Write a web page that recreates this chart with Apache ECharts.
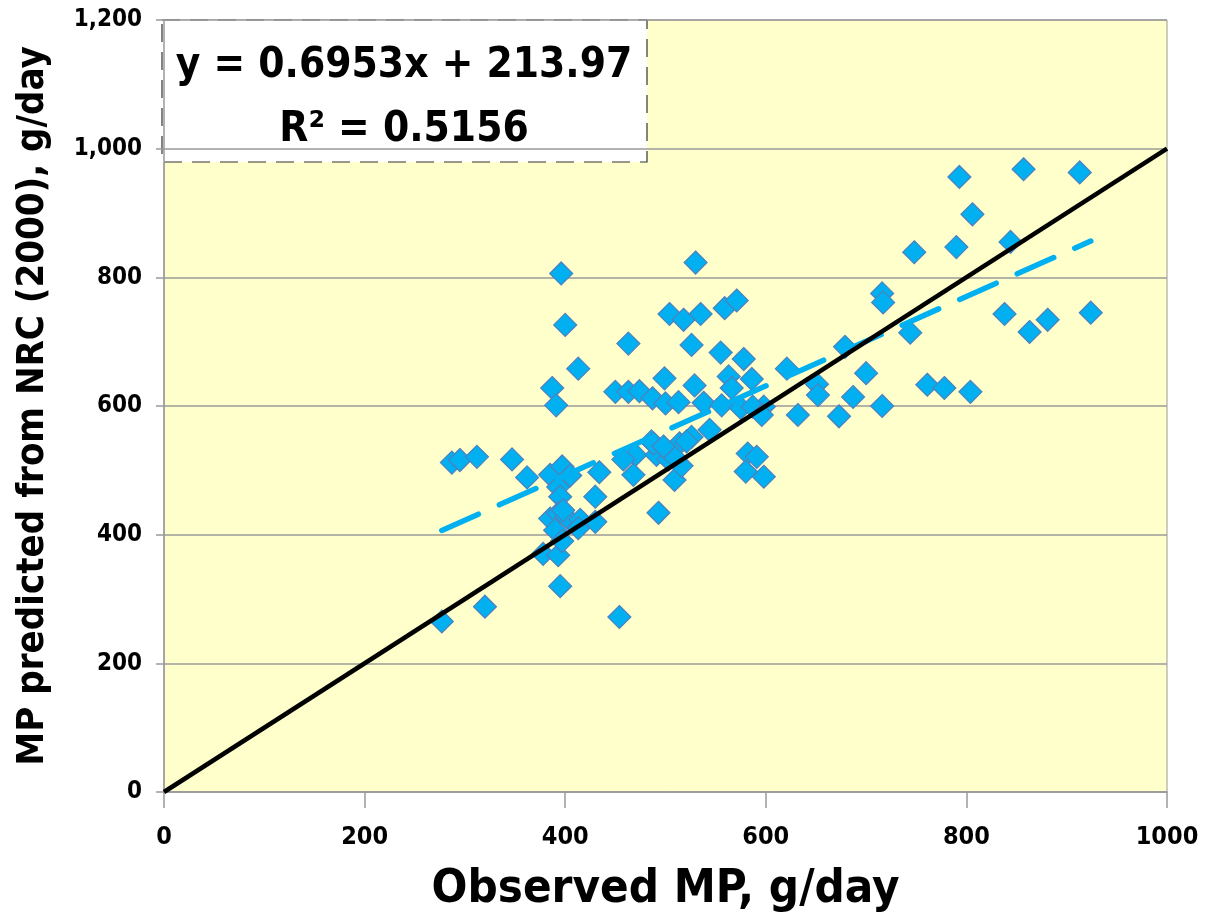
<!DOCTYPE html>
<html>
<head>
<meta charset="utf-8">
<title>Observed vs predicted MP</title>
<script src="https://cdn.jsdelivr.net/npm/echarts@6/dist/echarts.min.js"></script>
<style>
  html, body { margin: 0; padding: 0; background: #ffffff; }
  #chart { width: 1208px; height: 916px; }
</style>
</head>
<body>
<div id="chart"></div>
<script>
// Observed MP (g/day) and MP predicted from NRC (2000) (g/day)
const observedMP = [
  277, 320, 287, 295, 312, 347, 362, 385, 387, 391, 396, 400, 413, 378, 393, 395,
  454, 397, 405, 393, 395, 434, 430, 385, 393, 401, 415, 430, 390, 397, 398, 493,
  463, 504, 518, 526, 499, 530, 450, 463, 474, 487, 500, 513, 529, 535, 559, 571,
  555, 578, 563, 586, 566, 538, 556, 575, 598, 587, 596, 621, 679, 700, 651, 652,
  632, 673, 687, 716, 582, 591, 580, 598, 544, 514, 526, 486, 470, 458, 468, 491,
  509, 516, 503, 488, 521, 508, 793, 857, 913, 806, 844, 748, 790, 716, 717, 838,
  881, 863, 924, 744, 761, 778, 804, 413, 498
];
const predictedMP = [
  265, 288, 512, 516, 521, 517, 489, 493, 628, 601, 806, 726, 658, 370, 368, 320,
  272, 506, 492, 474, 459, 497, 459, 425, 433, 428, 423, 420, 407, 390, 438, 434,
  697, 743, 734, 695, 643, 823, 622, 622, 623, 612, 604, 606, 632, 743, 752, 764,
  683, 673, 646, 642, 628, 605, 601, 597, 599, 599, 586, 658, 692, 651, 634, 617,
  586, 584, 614, 600, 526, 521, 498, 490, 563, 542, 552, 545, 524, 517, 493, 524,
  485, 507, 517, 542, 545, 522, 956, 968, 963, 898, 855, 839, 847, 775, 761, 743,
  734, 715, 745, 714, 633, 628, 622, 410, 537
];

// Linear regression reported for the data set
const trendSlope = 0.6953;
const trendIntercept = 213.97;
const rSquared = 0.5156;

// Axis ranges and ticks
const xTicks = [0, 200, 400, 600, 800, 1000];
const yTicks = [0, 200, 400, 600, 800, 1000, 1200];

const points = observedMP.map((x, i) => [x, predictedMP[i]]);
const xMinObs = Math.min(...observedMP);
const xMaxObs = Math.max(...observedMP);
const trendData = [
  [xMinObs, trendSlope * xMinObs + trendIntercept],
  [xMaxObs, trendSlope * xMaxObs + trendIntercept]
];
const identityData = [[xTicks[0], xTicks[0]], [xTicks[xTicks.length - 1], xTicks[xTicks.length - 1]]];

const FONT = '"Liberation Sans Narrow", "DejaVu Sans Condensed", "Liberation Sans", sans-serif';

const chart = echarts.init(document.getElementById('chart'), null, { renderer: 'canvas' });

chart.setOption({
  animation: false,
  backgroundColor: '#ffffff',
  grid: {
    left: 164, right: 41, top: 20, bottom: 124,
    containLabel: false,
    outerBoundsMode: 'none',
    show: true,
    backgroundColor: '#FFFFCC',
    borderColor: '#9a9a9a',
    borderWidth: 1
  },
  xAxis: {
    type: 'value',
    min: xTicks[0], max: xTicks[xTicks.length - 1], interval: 200,
    name: 'Observed MP, g/day',
    nameLocation: 'middle',
    nameGap: 74,
    nameTextStyle: { fontFamily: FONT, fontWeight: 'bold', fontSize: 47, color: '#000' },
    axisLine: { show: true, onZero: false, lineStyle: { color: '#9a9a9a', width: 1.5 } },
    axisTick: { show: true, inside: false, length: 16, lineStyle: { color: '#9a9a9a', width: 1.5 } },
    splitLine: { show: false },
    axisLabel: {
      margin: 33,
      fontFamily: FONT, fontWeight: 'bold', fontSize: 25, color: '#000',
      formatter: v => String(v)
    }
  },
  yAxis: {
    type: 'value',
    min: yTicks[0], max: yTicks[yTicks.length - 1], interval: 200,
    name: 'MP predicted from NRC (2000), g/day',
    nameLocation: 'middle',
    nameGap: 112,
    nameTextStyle: { fontFamily: FONT, fontWeight: 'bold', fontSize: 38, color: '#000' },
    axisLine: { show: true, lineStyle: { color: '#9a9a9a', width: 1.5 } },
    axisTick: { show: true, inside: false, length: 8, lineStyle: { color: '#9a9a9a', width: 1.5 } },
    splitLine: { show: true, lineStyle: { color: '#9a9a9a', width: 1.5 } },
    axisLabel: {
      margin: 22,
      fontFamily: FONT, fontWeight: 'bold', fontSize: 24, color: '#000',
      formatter: v => v.toLocaleString('en-US')
    }
  },
  series: [
    {
      name: 'Observations',
      type: 'scatter',
      data: points,
      symbol: 'diamond',
      symbolSize: [23, 23],
      itemStyle: { color: '#00B0F0', borderColor: '#4F81BD', borderWidth: 1.2, opacity: 1 },
      z: 2
    },
    {
      name: 'Linear trend',
      type: 'line',
      data: trendData,
      symbol: 'none',
      lineStyle: { color: '#00B0F0', width: 5.5, type: [40, 23], cap: 'round' },
      z: 3
    },
    {
      name: 'y = x',
      type: 'line',
      data: identityData,
      symbol: 'none',
      lineStyle: { color: '#000000', width: 4.5 },
      z: 4
    }
  ],
  graphic: [
    {
      type: 'group',
      x: 162, y: 20,
      z: 10,
      children: [
        {
          type: 'rect',
          shape: { x: 0, y: 0, width: 485, height: 142 },
          style: { fill: '#ffffff', stroke: '#333333', lineWidth: 1.2, lineDash: [18, 10] }
        },
        {
          type: 'text',
          x: 242, y: 46,
          style: {
            text: 'y = ' + trendSlope.toFixed(4) + 'x + ' + trendIntercept.toFixed(2),
            fontFamily: FONT, fontWeight: 'bold', fontSize: 42, fill: '#000',
            align: 'center', verticalAlign: 'middle'
          }
        },
        {
          type: 'text',
          x: 242, y: 110,
          style: {
            text: 'R\u00B2 = ' + rSquared.toFixed(4),
            fontFamily: FONT, fontWeight: 'bold', fontSize: 42, fill: '#000',
            align: 'center', verticalAlign: 'middle'
          }
        }
      ]
    }
  ]
});
</script>
</body>
</html>
